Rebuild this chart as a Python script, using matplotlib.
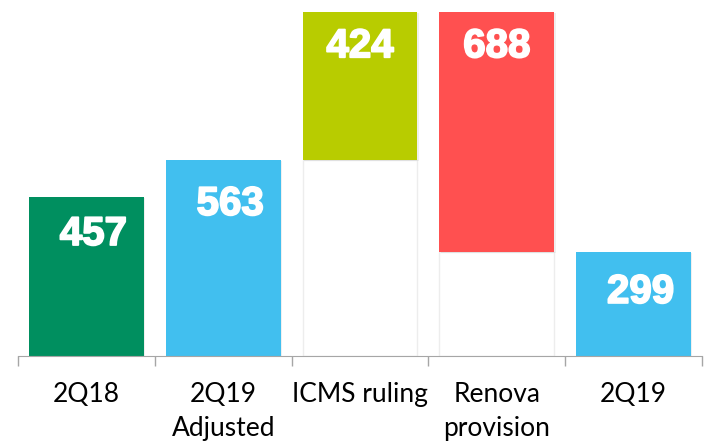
import matplotlib.pyplot as plt
import matplotlib.patheffects as pe
import numpy as np

categories = ['2Q18', '2Q19\nAdjusted', 'ICMS ruling', 'Renova\nprovision', '2Q19']
values = [457, 563, 424, -688, 299]
is_total = [True, True, False, False, True]
colors = ['#008F5F', '#41BFEF', '#B8CC00', '#FF5050', '#41BFEF']
label_dx = [5, 5, 0, 0, 5]        # label nudges, points
label_dy = [-27, -32, -25, -25, -29]

# running level for the waterfall
bottoms, heights = [], []
level = 0
for v, tot in zip(values, is_total):
    if tot:
        bottoms.append(0)
        heights.append(v)
        level = v
    else:
        if v >= 0:
            bottoms.append(level)
            heights.append(v)
        else:
            bottoms.append(level + v)
            heights.append(-v)
        level += v

fig = plt.figure(figsize=(7.04, 4.47), dpi=100)
ax = fig.add_axes([18 / 704, 91 / 447, 684 / 704, 349 / 447])

x = np.arange(len(categories))
shadow = [pe.SimplePatchShadow(offset=(1, -1), shadow_rgbFace='#999999', alpha=0.15), pe.Normal()]

# white "invisible" bases under the floating bars
ax.bar(x, bottoms, width=0.84, color='white', edgecolor='#EDEDED', linewidth=1, zorder=2)

bars = ax.bar(x, heights, bottom=bottoms, width=0.84, color=colors, zorder=3)
for b in bars:
    b.set_path_effects(shadow)

heavy = [pe.withStroke(linewidth=1.3, foreground='white')]
for i, (b, v) in enumerate(zip(bars, values)):
    top = b.get_y() + b.get_height()
    ax.annotate(f'{abs(v)}', (b.get_x() + b.get_width() / 2, top),
                xytext=(label_dx[i], label_dy[i]), textcoords='offset points',
                ha='center', va='center', color='white', fontsize=29,
                fontweight='bold', family='Liberation Sans', zorder=4,
                path_effects=heavy)

ax.set_xlim(-0.5, len(categories) - 0.5)
ax.set_ylim(0, 1000)
ax.set_xticks(x)
ax.set_xticklabels(categories, fontsize=19, family='Lato', linespacing=1.45)
ax.set_xticks(np.arange(-0.5, len(categories)), minor=True)
ax.tick_params(axis='x', which='major', length=0, pad=19)
ax.tick_params(axis='x', which='minor', length=7, color='#A6A6A6', width=1)
ax.set_yticks([])
for s in ['top', 'right', 'left']:
    ax.spines[s].set_visible(False)
ax.spines['bottom'].set_color('#A6A6A6')
ax.spines['bottom'].set_zorder(5)

fig.savefig('out.png', dpi=100)
